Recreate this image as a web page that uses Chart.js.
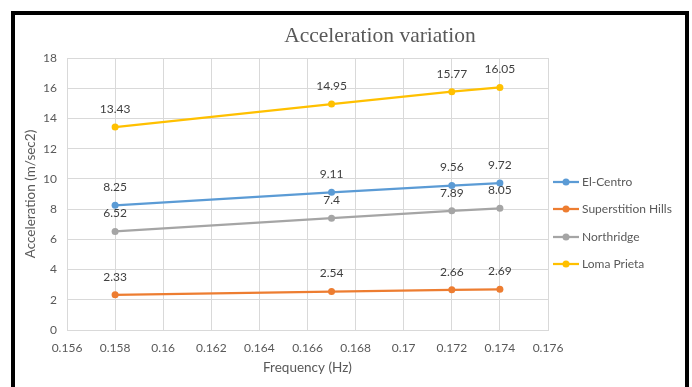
<!DOCTYPE html>
<html>
<head>
<meta charset="utf-8">
<script src="https://cdn.jsdelivr.net/npm/chart.js@4"></script>
<style>
  html, body { margin: 0; padding: 0; background: #ffffff; }
  #wrap { position: relative; width: 692px; height: 387px; overflow: hidden; }
  #frame {
    position: absolute; left: 11px; top: 11px; width: 670px; height: 400px;
    border: 4px solid #000; border-bottom: none; box-sizing: content-box;
    pointer-events: none;
  }
  canvas { position: absolute; left: 0; top: 0; }
</style>
</head>
<body>
<div id="wrap">
  <canvas id="c" width="692" height="387"></canvas>
  <div id="frame"></div>
</div>
<script>
// Frequency of each record (Hz)
const frequencies = [0.158, 0.167, 0.172, 0.174];

// Peak acceleration per earthquake record (m/sec2)
const elCentro = [8.25, 9.11, 9.56, 9.72];
const superstitionHills = [2.33, 2.54, 2.66, 2.69];
const northridge = [6.52, 7.4, 7.89, 8.05];
const lomaPrieta = [13.43, 14.95, 15.77, 16.05];

const seriesNames = ['El-Centro', 'Superstition Hills', 'Northridge', 'Loma Prieta'];
const seriesValues = [elCentro, superstitionHills, northridge, lomaPrieta];
const seriesColors = ['#5b9bd5', '#ed7d31', '#a5a5a5', '#ffc000'];

const xTicks = [0.156, 0.158, 0.16, 0.162, 0.164, 0.166, 0.168, 0.17, 0.172, 0.174, 0.176];
const yTicks = [0, 2, 4, 6, 8, 10, 12, 14, 16, 18];

const chartTitle = 'Acceleration variation';
const FONT = 'Lato, "Liberation Sans", sans-serif';
const TEXT = '#595959';

const datasets = seriesNames.map((name, i) => ({
  label: name,
  data: frequencies.map((f, j) => ({ x: f, y: seriesValues[i][j] })),
  borderColor: seriesColors[i],
  backgroundColor: seriesColors[i],
  showLine: true,
  borderWidth: 2.25,
  pointRadius: 3.5,
  pointBorderWidth: 0,
  pointHoverRadius: 3.5,
  tension: 0
}));

// Title, value labels and legend drawn on the canvas
const decorations = {
  id: 'decorations',
  afterDatasetsDraw(chart) {
    const ctx = chart.ctx;
    ctx.save();
    // value labels above each point
    ctx.font = '12px ' + FONT;
    ctx.fillStyle = '#404040';
    ctx.textAlign = 'center';
    ctx.textBaseline = 'middle';
    chart.data.datasets.forEach((ds, i) => {
      const meta = chart.getDatasetMeta(i);
      meta.data.forEach((pt, j) => {
        ctx.fillText(String(ds.data[j].y), pt.x, pt.y - 18);
      });
    });
    // title
    ctx.font = '21.5px "Liberation Serif", "DejaVu Serif", serif';
    ctx.fillStyle = TEXT;
    ctx.fillText(chartTitle, 380, 36);
    // legend
    ctx.font = '12px ' + FONT;
    ctx.textAlign = 'left';
    const legendY = [182, 209, 237, 264];
    chart.data.datasets.forEach((ds, i) => {
      const y = legendY[i];
      ctx.strokeStyle = ds.borderColor;
      ctx.lineWidth = 2.25;
      ctx.beginPath();
      ctx.moveTo(553, y);
      ctx.lineTo(579, y);
      ctx.stroke();
      ctx.fillStyle = ds.borderColor;
      ctx.beginPath();
      ctx.arc(566, y, 3.5, 0, Math.PI * 2);
      ctx.fill();
      ctx.fillStyle = TEXT;
      ctx.fillText(ds.label, 582, y);
    });
    ctx.restore();
  }
};

new Chart(document.getElementById('c'), {
  type: 'scatter',
  data: { datasets },
  options: {
    responsive: false,
    animation: false,
    layout: { padding: { left: 15, top: 58, right: 144, bottom: 0 } },
    plugins: {
      legend: { display: false },
      title: { display: false },
      tooltip: { enabled: false }
    },
    scales: {
      x: {
        type: 'linear',
        min: 0.156,
        max: 0.176,
        afterBuildTicks(scale) { scale.ticks = xTicks.map(v => ({ value: v })); },
        afterFit(scale) { scale.height = 57; },
        grid: { color: '#d9d9d9', drawTicks: false },
        border: { color: '#d9d9d9' },
        ticks: {
          padding: 11,
          color: TEXT,
          font: { family: FONT, size: 12 },
          callback: v => String(+v.toFixed(3))
        },
        title: {
          display: true,
          text: 'Frequency (Hz)',
          color: TEXT,
          font: { family: FONT, size: 13.5 },
          padding: { top: 4, bottom: 11 }
        }
      },
      y: {
        min: 0,
        max: 18,
        afterBuildTicks(scale) { scale.ticks = yTicks.map(v => ({ value: v })); },
        afterFit(scale) { scale.width = 52; },
        grid: { color: '#d9d9d9', drawTicks: false },
        border: { color: '#d9d9d9' },
        ticks: {
          padding: 10,
          color: TEXT,
          font: { family: FONT, size: 12 }
        },
        title: {
          display: true,
          text: 'Acceleration (m/sec2)',
          color: TEXT,
          font: { family: FONT, size: 13.5 },
          padding: { top: 8, bottom: 4 }
        }
      }
    }
  },
  plugins: [decorations]
});
</script>
</body>
</html>
